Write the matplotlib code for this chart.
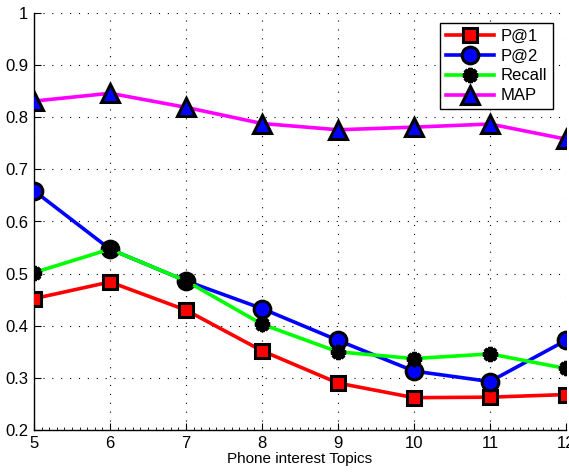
import matplotlib
matplotlib.use("Agg")
import matplotlib.pyplot as plt
from matplotlib.ticker import MultipleLocator

plt.rcParams['font.family'] = ['Liberation Sans', 'DejaVu Sans']

topics = [5, 6, 7, 8, 9, 10, 11, 12]
p_at_1 = [0.452, 0.484, 0.430, 0.352, 0.290, 0.262, 0.263, 0.268]
p_at_2 = [0.659, 0.547, 0.486, 0.433, 0.372, 0.313, 0.293, 0.372]
recall = [0.502, 0.547, 0.486, 0.403, 0.350, 0.337, 0.346, 0.318]
map_vals = [0.831, 0.846, 0.819, 0.788, 0.776, 0.781, 0.787, 0.758]

fig = plt.figure(figsize=(5.69, 4.73), dpi=100)
ax = fig.add_axes([34/569, 1-430/473, (566-34)/569, (430-13)/473])

ax.plot(topics, p_at_1, color='#ff0000', lw=2.6, marker='s', ms=10,
        mfc='#ff0000', mec='black', mew=2.2, label='P@1', zorder=3)
ax.plot(topics, p_at_2, color='#0000ff', lw=2.6, marker='o', ms=12,
        mfc='#0000ff', mec='black', mew=2.2, label='P@2', zorder=3)
ax.plot(topics, recall, color='#00ff00', lw=2.6, marker=(8, 2, 0), ms=11,
        mfc='black', mec='black', mew=3.0, label='Recall', zorder=3)
ax.plot(topics, map_vals, color='#ff00ff', lw=2.6, marker='^', ms=13,
        mfc='#0000ff', mec='black', mew=2.2, label='MAP', zorder=3)

ax.set_xlim(5, 12)
ax.set_ylim(0.2, 1.0)
ax.set_xticks(topics)
ax.set_yticks([0.2, 0.3, 0.4, 0.5, 0.6, 0.7, 0.8, 0.9, 1.0])
ax.set_yticklabels(['0.2', '0.3', '0.4', '0.5', '0.6', '0.7', '0.8', '0.9', '1'])
ax.xaxis.set_minor_locator(MultipleLocator(0.1))
ax.tick_params(axis='both', which='major', direction='in', length=5, width=0.8,
               labelsize=12, pad=4)
ax.tick_params(axis='x', which='minor', direction='in', length=2.5, width=0.6)
ax.tick_params(axis='y', which='minor', left=False)

ax.grid(True, which='major', linestyle=(0, (1, 7)), color='black', linewidth=0.8)
ax.spines['top'].set_visible(False)
ax.spines['right'].set_visible(False)
ax.spines['left'].set_linewidth(1.0)
ax.spines['bottom'].set_linewidth(1.0)

ax.set_xlabel('Phone interest Topics', fontsize=11, labelpad=1)

leg = ax.legend(loc='upper right', bbox_to_anchor=(0.982, 0.985), fontsize=12,
                frameon=True, fancybox=False, edgecolor='black', framealpha=1,
                handlelength=2.9, borderpad=0.35, labelspacing=0.3,
                handletextpad=0.4, borderaxespad=0.2)
leg.get_frame().set_linewidth(1.0)

fig.savefig('out.png', dpi=100)
